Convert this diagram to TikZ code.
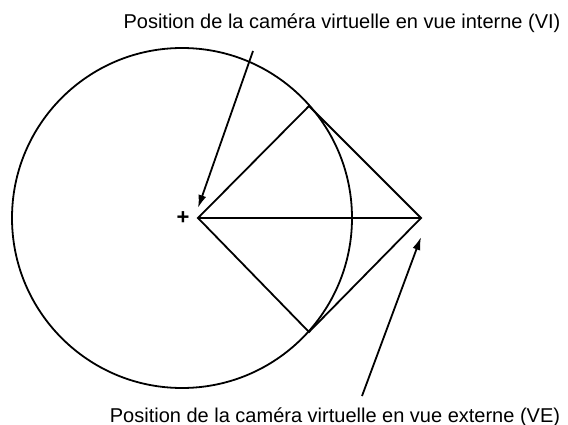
\documentclass[tikz,border=0pt]{standalone}
\usepackage{fontspec}
\setmainfont{Liberation Sans}
\usetikzlibrary{arrows.meta, positioning, calc}

\begin{document}
\begin{tikzpicture}[
  x=1pt, y=-1pt,
  font=\fontsize{20}{24}\selectfont,
  ligne/.style={line width=1.8pt, black},
  fleche/.style={-{Latex[length=13pt, width=8pt]}, line width=1.8pt, black},
  legende/.style={inner sep=0pt, anchor=base}
]
\useasboundingbox (0,0) rectangle (568,425);

% sphère et points de vue
\coordinate (centre) at (182,218);
\coordinate (VI) at (198,218);
\coordinate (VE) at (421,218);
\coordinate (Thaut) at (309,106);
\coordinate (Tbas) at (309,332);

\draw[ligne] (centre) circle (170);
\node[font=\fontsize{22}{24}\selectfont\bfseries, inner sep=0pt] (croix) at (183,218) {+};

\draw[ligne] (VI) -- (Thaut) -- (VE) -- (Tbas) -- cycle;
\draw[ligne] (VI) -- (VE);

% légendes
\node[legende] (txtVI) at (342,29) {Position de la caméra virtuelle en vue interne (VI)};
\node[legende] (txtVE) at (335,422) {Position de la caméra virtuelle en vue externe (VE)};

\coordinate (depVI) at (253,51);
\coordinate (depVE) at (362,396);
\draw[fleche] (depVI) -- ($(VI)+(0,-10)$);
\draw[fleche] (depVE) -- ($(VE)+(0,19)$);
\end{tikzpicture}
\end{document}
